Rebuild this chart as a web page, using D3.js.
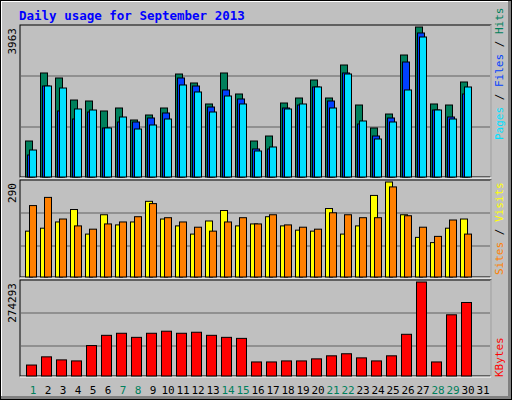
<!DOCTYPE html>
<html><head><meta charset="utf-8">
<script src="https://cdn.jsdelivr.net/npm/d3@7"></script>
<style>body{margin:0;background:#fff}</style>
</head><body>
<svg id="c" width="512" height="400"></svg>
<script>
var days = d3.range(1, 32);
var weekend = [1, 7, 8, 14, 15, 21, 22, 28, 29];
var hits = [951,2748,2616,2034,2008,1744,1823,1506,1638,1823,2721,2484,1929,2748,2193,951,1083,1955,2087,2563,2087,2959,1902,1295,1664,3223,3963,1929,1902,2510,0];
var files = [581,2404,1744,1532,1717,1295,1453,1453,1559,1691,2616,2404,1849,2299,2061,740,740,1823,1902,2378,2008,2748,1400,1083,1559,3038,3805,1770,1585,2193,0];
var pages = [713,2404,2351,1797,1770,1295,1585,1268,1374,1532,2431,2246,1717,2140,1929,687,793,1797,1929,2378,1823,2721,1480,1004,1453,2299,3699,1770,1532,2378,0];
var sites = [140,149,168,206,131,190,159,168,231,177,156,131,171,203,156,162,184,156,143,140,209,131,156,249,290,190,121,105,149,177,0];
var visits = [218,243,177,156,146,162,168,184,224,181,168,152,140,168,181,162,190,159,152,146,196,190,181,181,275,187,152,124,174,131,0];
var kbytes = [32000,55900,47000,44000,88800,118700,124700,112800,124700,130700,124700,127700,118700,112800,109800,41000,41000,44000,44000,50000,58900,64900,52900,44000,58900,121700,274293,41000,178600,214500,0];

var svg = d3.select("#c");
var font = "DejaVu Sans Mono, monospace";

// background & 3D border
svg.append("rect").attr("width", 512).attr("height", 400).attr("fill", "#000");
svg.append("rect").attr("x", 1).attr("y", 1).attr("width", 510).attr("height", 398).attr("fill", "#808080");
svg.append("rect").attr("x", 1).attr("y", 1).attr("width", 507).attr("height", 395).attr("fill", "#fff");
svg.append("rect").attr("x", 2).attr("y", 2).attr("width", 506).attr("height", 394).attr("fill", "#c0c0c0");

svg.append("text").attr("x", 19).attr("y", 20).attr("fill", "#0000ff")
  .attr("font-family", font).attr("font-weight", "bold").attr("font-size", 12.5)
  .text("Daily usage for September 2013");

var x = d3.scaleBand().domain(days).range([20, 485]).paddingInner(0).paddingOuter(0);
// x.bandwidth() = 15

function panel(y0, y1, max, label, grid) {
  svg.append("rect").attr("x", 20).attr("y", y0).attr("width", 471).attr("height", y1 - y0)
    .attr("fill", "none").attr("stroke", "#000");
  svg.append("line").attr("x1", 20).attr("x2", 491).attr("y1", y1 + 1).attr("y2", y1 + 1).attr("stroke", "#fff");
  svg.append("line").attr("x1", 491).attr("x2", 491).attr("y1", y0).attr("y2", y1 + 1).attr("stroke", "#fff");
  var y = d3.scaleLinear().domain([0, max]).range([y1, y0 + 2]);
  grid.forEach(function (g) {
    svg.append("line").attr("x1", 21).attr("x2", 490).attr("y1", g).attr("y2", g)
      .attr("stroke", "#808080").attr("stroke-width", 1.5);
  });
  svg.append("text").attr("transform", "translate(16," + (y0 + 3) + ") rotate(-90)")
    .attr("text-anchor", "end").attr("font-family", font).attr("font-size", 11).text(label);
  return y;
}

function bars(y, data, off, w, color) {
  svg.append("g").selectAll("rect").data(data).enter().append("rect")
    .attr("x", function (d, i) { return x(days[i]) + off; })
    .attr("y", function (d) { return y(d); })
    .attr("width", w)
    .attr("height", function (d) { return y(0) - y(d); })
    .attr("fill", color).attr("stroke", "#000").attr("stroke-width", 1)
    .attr("display", function (d) { return d > 0 ? null : "none"; });
}

var y1 = panel(25, 177, 3963, "3963", [76, 127]);
bars(y1, hits, 5.5, 7, "#00805c");
bars(y1, files, 7.5, 7, "#0040ff");
bars(y1, pages, 9.5, 7, "#00e0ff");

var y2 = panel(180, 277, 290, "290", [213, 246]);
bars(y2, sites, 5.5, 7, "#ffff00");
bars(y2, visits, 9.5, 7, "#ff8000");

var y3 = panel(280, 376, 274293, "274293", [313, 346]);
bars(y3, kbytes, 6.5, 10, "#ff0000");

// day labels
svg.append("g").selectAll("text").data(days).enter().append("text")
  .attr("x", function (d) { return x(d) + 13; })
  .attr("y", 394).attr("text-anchor", "middle")
  .attr("font-family", font).attr("font-size", 11)
  .attr("fill", function (d) { return weekend.indexOf(d) >= 0 ? "#00805c" : "#000"; })
  .text(function (d) { return d; });

// right legends
function legend(yb, parts) {
  var t = svg.append("text").attr("transform", "translate(503," + yb + ") rotate(-90)")
    .attr("font-family", font).attr("font-size", 11);
  parts.forEach(function (p) { t.append("tspan").attr("fill", p[1]).text(p[0]); });
}
legend(140, [["Pages", "#00e0ff"], [" / ", "#000"], ["Files", "#0040ff"], [" / ", "#000"], ["Hits", "#00805c"]]);
legend(275, [["Sites", "#ff8000"], [" / ", "#000"], ["Visits", "#ffff00"]]);
legend(377, [["KBytes", "#ff0000"]]);
</script>
</body></html>
